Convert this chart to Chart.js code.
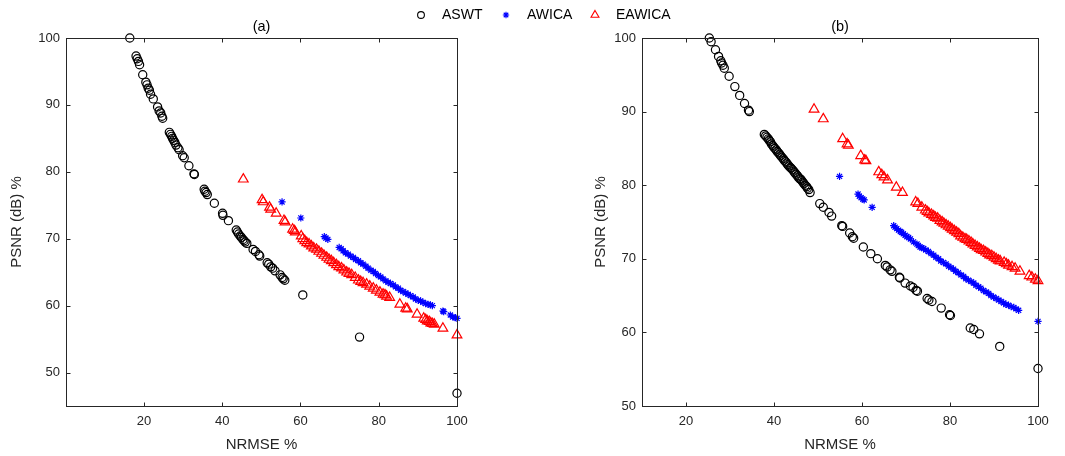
<!DOCTYPE html>
<html>
<head>
<meta charset="utf-8">
<script src="https://cdn.jsdelivr.net/npm/chart.js@4.4.1/dist/chart.umd.min.js"></script>
<style>
  html, body { margin: 0; padding: 0; background: #fff; }
  #wrap { position: relative; width: 1065px; height: 456px; }
  #wrap canvas { position: absolute; left: 0; top: 0; }
</style>
</head>
<body>
<div id="wrap">
  <canvas id="chartA" width="1065" height="456"></canvas>
  <canvas id="chartB" width="1065" height="456"></canvas>
</div>
<script>
/* ── data ── */
const SERIES = ['ASWT', 'AWICA', 'EAWICA'];
const X_TICKS = [20, 40, 60, 80, 100];
const Y_TICKS = [50, 60, 70, 80, 90, 100];

// (a)
const aswtNrmseA = [16.4,18.0,18.3,18.6,18.9,19.7,20.5,20.8,21.1,21.4,21.7,22.4,23.5,23.9,24.3,24.6,24.8,26.5,26.8,27.1,27.3,27.6,27.9,28.2,28.7,29.0,29.9,30.3,31.5,32.8,32.9,35.4,35.6,35.9,36.2,38.0,40.1,40.2,41.6,43.6,43.9,44.2,44.6,44.9,45.3,45.6,45.9,46.3,47.9,48.5,49.4,49.6,51.5,51.9,52.4,52.9,53.5,54.8,55.3,55.6,56.0,60.6,75.1,100];
const aswtPsnrA  = [100,97.3,96.9,96.5,96.0,94.5,93.4,93.0,92.5,92.2,91.6,90.9,89.7,89.1,88.8,88.3,88.0,85.9,85.6,85.3,85.0,84.7,84.4,84.0,83.6,83.3,82.4,82.1,80.9,79.7,79.6,77.4,77.1,76.9,76.6,75.3,73.8,73.5,72.7,71.3,71.0,70.7,70.4,70.2,69.9,69.7,69.5,69.3,68.4,68.1,67.6,67.4,66.4,66.2,65.8,65.6,65.2,64.6,64.2,64.0,63.8,61.6,55.3,46.9];
const awicaNrmseA = [55.3,60.1,66.1,66.5,67.0,69.9,70.4,70.9,71.5,72.2,72.8,73.5,74.1,74.8,75.4,76.0,76.7,77.3,78.0,78.6,79.2,79.9,80.5,81.1,81.8,82.4,83.0,83.7,84.3,85.0,85.6,86.2,86.9,87.5,88.1,88.8,89.4,90.1,90.7,91.3,92.0,92.6,93.2,93.7,96.4,96.6,98.3,98.9,99.6,100];
const awicaPsnrA  = [75.5,73.1,70.3,70.1,69.9,68.7,68.5,68.2,67.9,67.7,67.4,67.2,66.9,66.7,66.4,66.2,65.9,65.6,65.3,65.1,64.8,64.5,64.3,64.0,63.7,63.5,63.3,63.1,62.8,62.6,62.3,62.1,61.9,61.7,61.5,61.3,61.0,60.8,60.7,60.5,60.3,60.2,60.1,60.0,59.2,59.1,58.6,58.3,58.2,58.1];
const eawicaNrmseA = [45.4,50.2,50.5,52.1,52.4,53.8,55.8,56.1,58.0,58.4,58.7,60.2,60.6,61.1,61.6,62.2,62.8,63.4,64.1,64.7,65.4,66.0,66.7,67.3,67.9,68.5,69.2,69.8,70.5,71.1,71.8,72.4,73.1,74.0,74.8,75.4,76.0,76.9,77.7,78.6,79.4,80.3,81.1,81.6,82.0,82.8,85.4,86.9,87.3,89.8,91.5,92.0,92.4,92.9,93.3,93.7,94.2,96.4,100];
const eawicaPsnrA  = [78.9,75.8,75.5,74.7,74.4,73.8,72.7,72.5,71.4,71.2,71.0,70.4,70.0,69.7,69.4,69.2,68.9,68.6,68.4,68.1,67.8,67.5,67.2,66.9,66.7,66.4,66.1,65.8,65.6,65.3,65.0,64.8,64.6,64.2,63.8,63.6,63.4,63.2,62.9,62.6,62.3,62.0,61.7,61.6,61.4,61.2,60.2,59.6,59.5,58.7,58.1,57.9,57.7,57.6,57.4,57.3,57.2,56.6,55.6];

// (b)
const aswtNrmseB = [25.3,25.7,26.7,27.4,27.9,28.1,28.4,28.7,29.8,31.1,32.2,33.3,34.2,34.4,37.8,38.1,38.4,38.7,38.9,39.2,39.4,39.7,39.9,40.2,40.5,40.7,41.0,41.3,41.5,41.8,42.1,42.3,42.6,42.9,43.1,43.4,43.7,43.9,44.2,44.5,44.7,45.0,45.3,45.5,45.8,46.1,46.3,46.6,46.8,47.1,47.4,47.6,47.9,48.2,50.4,51.2,52.5,53.1,55.4,55.6,57.2,57.8,58.1,60.3,62.0,63.5,65.3,65.7,66.4,66.8,68.5,68.6,69.8,71.0,71.6,72.3,72.6,74.8,75.2,75.9,78.0,79.9,80.1,84.6,85.4,86.7,91.3,100];
const aswtPsnrB  = [100,99.5,98.4,97.5,96.9,96.6,96.3,95.9,94.8,93.4,92.2,91.1,90.2,90.0,86.9,86.7,86.5,86.3,86.1,85.9,85.6,85.4,85.2,85.0,84.8,84.6,84.4,84.2,84.0,83.8,83.6,83.4,83.2,83.0,82.8,82.6,82.4,82.3,82.1,81.9,81.7,81.5,81.3,81.1,80.9,80.8,80.6,80.4,80.2,80.0,79.8,79.6,79.4,79.0,77.5,77.0,76.3,75.8,74.5,74.4,73.5,73.0,72.8,71.6,70.7,70.0,69.1,68.9,68.5,68.3,67.5,67.4,66.7,66.3,66.1,65.7,65.6,64.6,64.4,64.2,63.3,62.4,62.3,60.6,60.4,59.8,58.1,55.1];
const awicaNrmseB = [54.9,59.1,59.4,59.8,60.2,60.5,62.3,67.2,67.5,67.9,68.3,68.7,69.0,69.4,69.8,70.2,70.6,71.0,71.7,72.5,72.8,73.2,73.6,74.0,74.5,75.1,75.7,76.3,76.8,77.4,77.9,78.5,79.1,79.7,80.2,80.8,81.3,81.9,82.5,83.1,83.6,84.2,84.8,85.4,85.9,86.5,87.0,87.6,88.2,88.8,89.3,89.9,90.5,91.1,91.6,92.2,92.7,93.3,93.9,94.5,95.0,95.6,100];
const awicaPsnrB  = [81.2,78.8,78.5,78.3,78.1,78.0,77.0,74.5,74.3,74.1,73.9,73.7,73.6,73.4,73.2,73.0,72.9,72.7,72.3,72.0,71.8,71.6,71.5,71.4,71.2,71.0,70.7,70.5,70.2,70.0,69.7,69.5,69.3,69.0,68.8,68.6,68.3,68.1,67.8,67.6,67.3,67.1,66.9,66.7,66.4,66.2,66.0,65.7,65.5,65.3,65.0,64.8,64.6,64.4,64.2,64.0,63.8,63.7,63.5,63.4,63.2,63.0,61.5];
const eawicaNrmseB = [49.1,51.2,55.6,56.6,56.9,59.7,60.6,60.9,63.8,64.5,65.0,65.8,67.8,69.2,72.2,72.7,73.6,74.4,74.8,75.2,75.8,76.3,76.7,77.2,77.7,78.2,78.6,79.1,79.6,80.1,80.5,81.0,81.5,82.0,82.4,82.9,83.4,83.8,84.3,84.8,85.2,85.7,86.2,86.7,87.1,87.6,88.1,88.6,89.0,89.5,90.0,90.5,91.0,91.4,92.3,92.8,93.3,94.1,94.8,95.9,98.0,98.6,99.4,100];
const eawicaPsnrB  = [90.3,89.0,86.3,85.6,85.4,84.0,83.4,83.3,81.8,81.4,81.1,80.7,79.7,79.0,77.7,77.5,77.0,76.6,76.4,76.2,76.0,75.8,75.6,75.5,75.2,75.0,74.8,74.6,74.4,74.2,74.0,73.8,73.6,73.4,73.1,72.9,72.7,72.6,72.4,72.2,72.0,71.8,71.6,71.4,71.2,71.1,70.9,70.7,70.5,70.4,70.2,70.0,69.8,69.7,69.5,69.3,69.1,68.9,68.7,68.3,67.7,67.5,67.2,67.0];

/* ── styles ── */
const FONT = "'Liberation Sans', Arial, Helvetica, sans-serif";
const AXIS_C = '#262626';
const STYLE = {
  ASWT:   { color: '#000000', pointStyle: 'circle',   radius: 4.1, width: 1.2, order: 2 },
  AWICA:  { color: '#0000ff', pointStyle: 'star',     radius: 3.6, width: 1.2, order: 1 },
  EAWICA: { color: '#ff0000', pointStyle: 'triangle', radius: 5.6, width: 1.2, order: 0 }
};

const zip = (xs, ys) => xs.map((x, i) => ({ x, y: ys[i] }));

function makeDataset(name, xs, ys) {
  const s = STYLE[name];
  return {
    label: name,
    data: zip(xs, ys),
    showLine: false,
    pointStyle: s.pointStyle,
    pointRadius: s.radius,
    pointBorderWidth: s.width,
    pointBorderColor: s.color,
    pointBackgroundColor: 'rgba(0,0,0,0)',
    order: s.order,
    clip: false
  };
}

// box + inward ticks on all four sides (MATLAB style)
const boxTicks = {
  id: 'boxTicks',
  afterDraw(chart) {
    const { ctx, chartArea: a, scales: { x, y } } = chart;
    const L = Math.round(a.left) + 0.5, R = Math.round(a.right) + 0.5;
    const T = Math.round(a.top) + 0.5, B = Math.round(a.bottom) + 0.5;
    const len = 4;
    ctx.save();
    ctx.strokeStyle = AXIS_C;
    ctx.lineWidth = 1;
    ctx.strokeRect(L, T, R - L, B - T);
    ctx.beginPath();
    x.ticks.forEach(t => {
      const px = Math.round(x.getPixelForValue(t.value)) + 0.5;
      ctx.moveTo(px, B); ctx.lineTo(px, B - len);
      ctx.moveTo(px, T); ctx.lineTo(px, T + len);
    });
    y.ticks.forEach(t => {
      const py = Math.round(y.getPixelForValue(t.value)) + 0.5;
      ctx.moveTo(L, py); ctx.lineTo(L + len, py);
      ctx.moveTo(R, py); ctx.lineTo(R - len, py);
    });
    ctx.stroke();
    ctx.restore();
  }
};

// shared legend across the top of the figure
const LEGEND_POS = { ASWT: 421, AWICA: 506, EAWICA: 595 };
const LEGEND_R = { ASWT: 3.4, AWICA: 3.2, EAWICA: 4.6 };
const topLegend = {
  id: 'topLegend',
  afterDraw(chart) {
    const { ctx } = chart;
    ctx.save();
    SERIES.forEach(name => {
      const s = STYLE[name], x0 = LEGEND_POS[name], yc = 15;
      ctx.strokeStyle = s.color;
      ctx.fillStyle = 'rgba(0,0,0,0)';
      ctx.lineWidth = 1.1;
      Chart.helpers.drawPoint(ctx, { pointStyle: s.pointStyle, radius: LEGEND_R[name], borderWidth: 1.1, rotation: 0 }, x0, yc);
      ctx.fillStyle = '#000';
      ctx.font = '14px ' + FONT;
      ctx.textAlign = 'left';
      ctx.textBaseline = 'middle';
      ctx.fillText(name, x0 + 21, yc);
    });
    ctx.restore();
  }
};

function makeOptions(cfg) {
  return {
    responsive: false,
    animation: false,
    layout: { padding: { left: cfg.padLeft, right: cfg.padRight, top: 10, bottom: 0 } },
    plugins: {
      legend: { display: false },
      tooltip: { enabled: false },
      title: {
        display: true, text: cfg.title, fullSize: false, color: '#000',
        font: { family: FONT, size: 14.5, weight: 'normal' },
        padding: { top: 8, bottom: 2.6 }
      }
    },
    scales: {
      x: {
        type: 'linear', min: cfg.xMin, max: 100,
        afterBuildTicks: s => { s.ticks = X_TICKS.map(v => ({ value: v })); },
        afterFit: s => { s.height = 50; },
        grid: { display: false, drawTicks: false, tickLength: 0 },
        border: { display: false },
        ticks: { color: AXIS_C, padding: 8, font: { family: FONT, size: 13 } },
        title: { display: true, text: 'NRMSE %', color: AXIS_C, font: { family: FONT, size: 15 }, padding: { top: 0, bottom: 2 } }
      },
      y: {
        type: 'linear', min: cfg.yMin, max: 100,
        afterBuildTicks: s => { s.ticks = Y_TICKS.filter(v => v >= cfg.yMin).map(v => ({ value: v })); },
        afterFit: s => { s.width = cfg.yWidth; },
        grid: { display: false, drawTicks: false, tickLength: 0 },
        border: { display: false },
        ticks: { color: AXIS_C, padding: 6, font: { family: FONT, size: 13 } },
        title: { display: true, text: 'PSNR (dB) %', color: AXIS_C, font: { family: FONT, size: 15 }, padding: { top: 8, bottom: 0 } }
      }
    }
  };
}

new Chart(document.getElementById('chartA'), {
  type: 'scatter',
  data: {
    datasets: [
      makeDataset('ASWT', aswtNrmseA, aswtPsnrA),
      makeDataset('AWICA', awicaNrmseA, awicaPsnrA),
      makeDataset('EAWICA', eawicaNrmseA, eawicaPsnrA)
    ]
  },
  options: makeOptions({ title: '(a)', xMin: 0.1, yMin: 45, padLeft: 0, padRight: 608, yWidth: 66 }),
  plugins: [boxTicks, topLegend]
});

new Chart(document.getElementById('chartB'), {
  type: 'scatter',
  data: {
    datasets: [
      makeDataset('ASWT', aswtNrmseB, aswtPsnrB),
      makeDataset('AWICA', awicaNrmseB, awicaPsnrB),
      makeDataset('EAWICA', eawicaNrmseB, eawicaPsnrB)
    ]
  },
  options: makeOptions({ title: '(b)', xMin: 10, yMin: 50, padLeft: 584, padRight: 27, yWidth: 58 }),
  plugins: [boxTicks]
});
</script>
</body>
</html>
